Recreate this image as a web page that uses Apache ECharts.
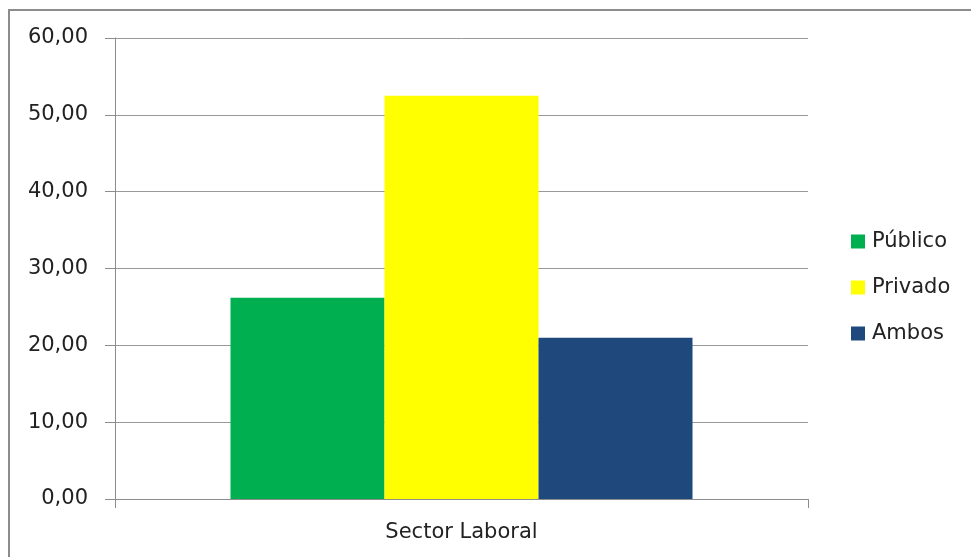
<!DOCTYPE html>
<html>
<head>
<meta charset="utf-8">
<script src="https://cdn.jsdelivr.net/npm/echarts@6/dist/echarts.min.js"></script>
<style>
  html, body { margin: 0; padding: 0; background: #fff; }
  #main { width: 971px; height: 557px; }
</style>
</head>
<body>
<div id="main"></div>
<script>
var chartDom = document.getElementById("main");
var myChart = echarts.init(chartDom);
var option;

// datos
var categorias = ["Sector Laboral"];
var series_nombres = ["Público", "Privado", "Ambos"];
var publico = [26.2];
var privado = [52.5];
var ambos = [21.0];
var colores = ["#00b050", "#ffff00", "#1f497d"];

var fuente = "DejaVu Sans";

option = {
  backgroundColor: "#fff",
  animation: false,
  graphic: [
    {
      type: "rect",
      shape: { x: 9, y: 10, width: 1000, height: 600 },
      style: { fill: "none", stroke: "#8c8c8c", lineWidth: 2 },
      silent: true
    }
  ],
  grid: { left: 115, right: 163, top: 38, bottom: 58 },
  legend: {
    orient: "vertical",
    left: 846,
    top: 226,
    itemWidth: 14,
    itemHeight: 14,
    itemGap: 25,
    icon: "rect",
    textStyle: { fontFamily: fuente, fontSize: 21, color: "#222", padding: [0, 0, 0, 2] },
    data: series_nombres
  },
  xAxis: {
    type: "category",
    data: categorias,
    axisLine: { lineStyle: { color: "#8c8c8c", width: 1 } },
    axisTick: { show: true, length: 9, lineStyle: { color: "#8c8c8c" } },
    axisLabel: { fontFamily: fuente, fontSize: 21, color: "#222", margin: 23 }
  },
  yAxis: {
    type: "value",
    min: 0,
    max: 60,
    interval: 10,
    axisLine: { show: true, lineStyle: { color: "#8c8c8c", width: 1 } },
    axisTick: { show: true, length: 10, lineStyle: { color: "#8c8c8c" } },
    axisLabel: {
      fontFamily: fuente,
      fontSize: 21,
      color: "#222",
      margin: 27,
      formatter: function (v) { return v.toFixed(2).replace(".", ","); }
    },
    splitLine: { lineStyle: { color: "#999", width: 1 } }
  },
  series: [
    { name: series_nombres[0], type: "bar", data: publico, barWidth: 154, barGap: "0%", itemStyle: { color: colores[0] } },
    { name: series_nombres[1], type: "bar", data: privado, barWidth: 154, barGap: "0%", itemStyle: { color: colores[1] } },
    { name: series_nombres[2], type: "bar", data: ambos, barWidth: 154, barGap: "0%", itemStyle: { color: colores[2] } }
  ]
};

option && myChart.setOption(option);
</script>
</body>
</html>
